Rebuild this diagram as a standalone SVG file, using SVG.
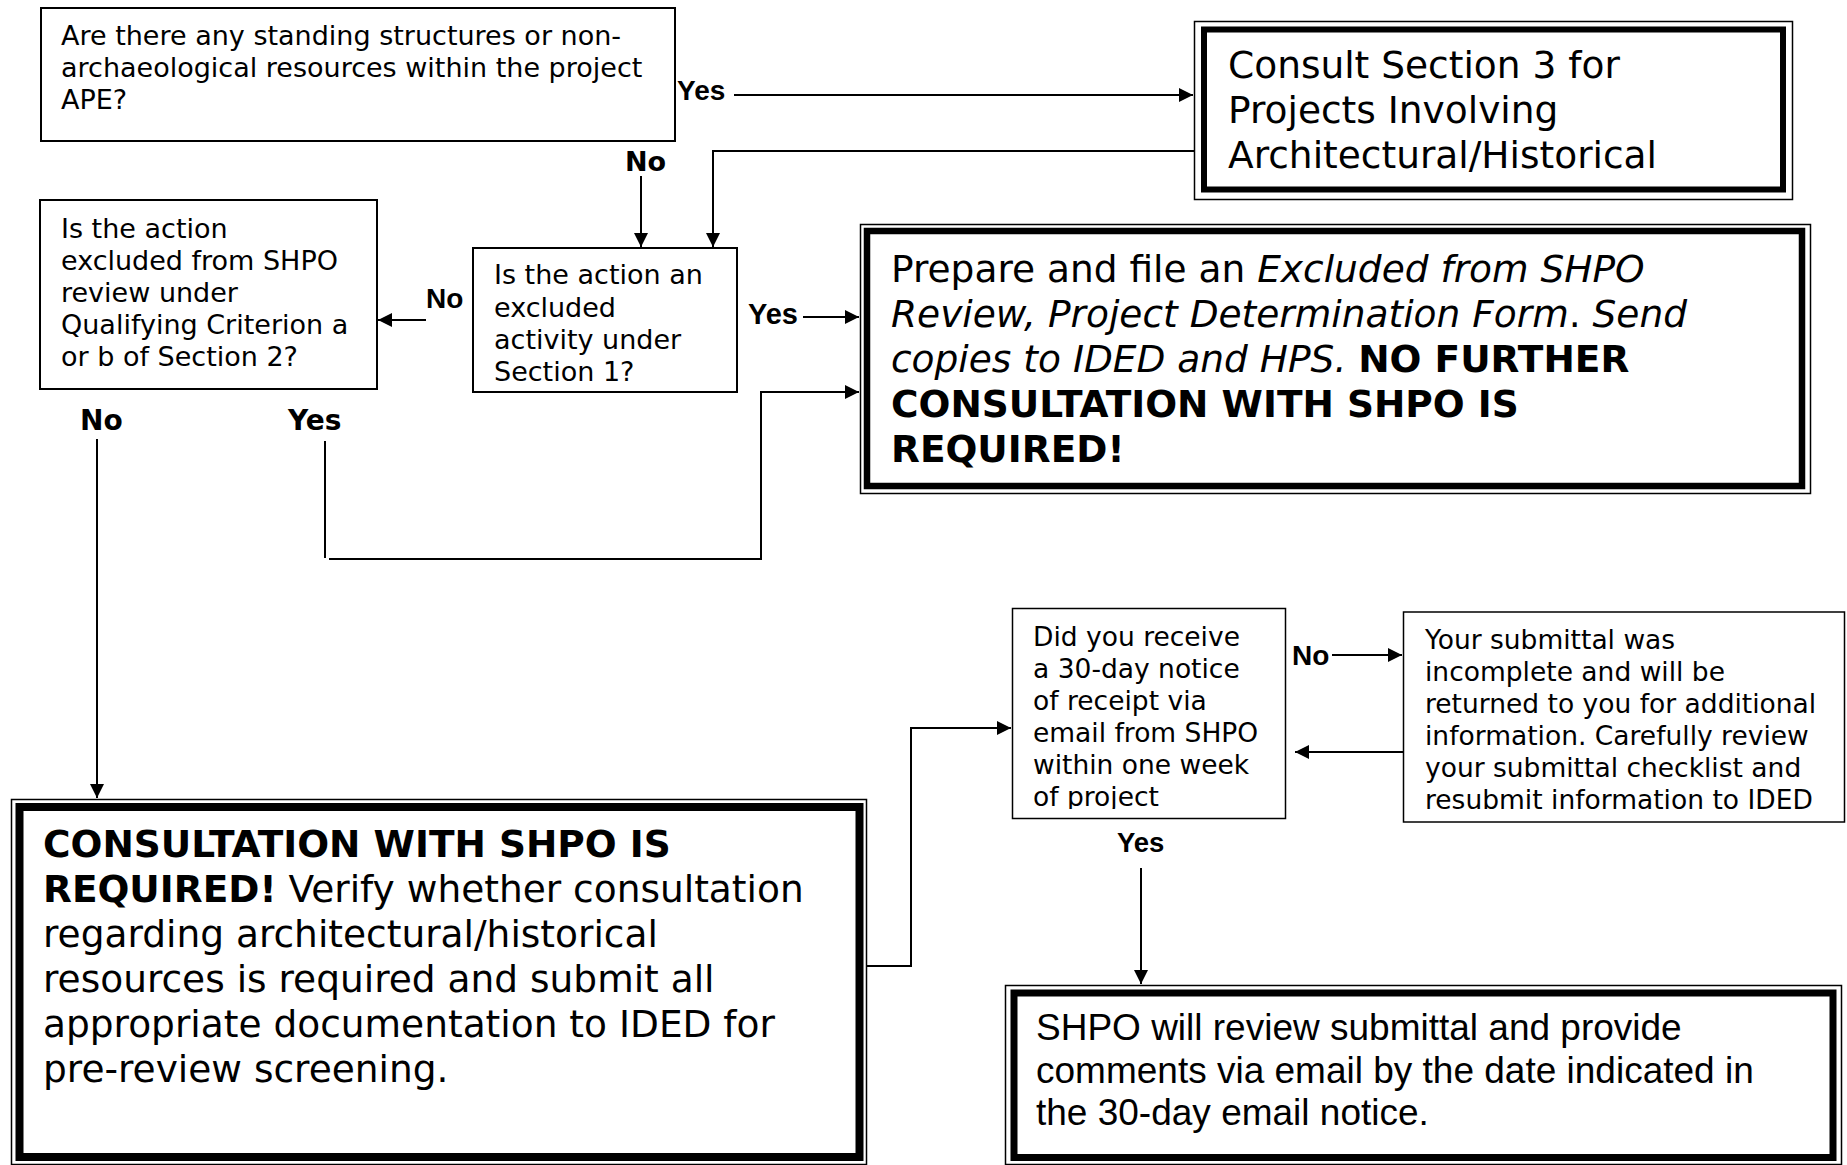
<svg xmlns="http://www.w3.org/2000/svg" width="1847" height="1165" viewBox="0 0 1847 1165">
<style>
  .bx { fill: #fff; stroke: #000; stroke-width: 2; }
  .thin { fill: #fff; stroke: #000; stroke-width: 1.5; }
  .thick { fill: none; stroke: #000; }
  .t { font-family: "DejaVu Sans", Verdana, sans-serif; fill: #000; }
  .a { font-family: "Liberation Sans", Arial, sans-serif; fill: #000; }
  .s27 { font-size: 27px; }
  .s37 { font-size: 37.5px; }
  .b { font-weight: bold; }
  .i { font-style: italic; }
  .lbl { font-weight: bold; font-size: 28px; }
  .cn { fill: none; stroke: #000; stroke-width: 2; }
</style>
<defs>
  <marker id="ah" markerWidth="14" markerHeight="14" refX="14" refY="7" orient="auto" markerUnits="userSpaceOnUse">
    <path d="M0,0 L14,7 L0,14 z" fill="#000"/>
  </marker>
  <clipPath id="clipDid"><rect x="1013" y="609" width="272" height="200"/></clipPath>
  <clipPath id="clipYour"><rect x="1404" y="613" width="440" height="208"/></clipPath>
</defs>

<g id="connectors">
  <path class="cn" d="M734,95 H1193" marker-end="url(#ah)"/>
  <path class="cn" d="M1194,151 H713 V247" marker-end="url(#ah)"/>
  <path class="cn" d="M641,176 V247" marker-end="url(#ah)"/>
  <path class="cn" d="M426,320 H378" marker-end="url(#ah)"/>
  <path class="cn" d="M803,317 H859" marker-end="url(#ah)"/>
  <path class="cn" d="M325,441 V558"/>
  <path class="cn" d="M329,559 H761 V392 H859" marker-end="url(#ah)"/>
  <path class="cn" d="M97,439 V798" marker-end="url(#ah)"/>
  <path class="cn" d="M867,966 H911 V728 H1011" marker-end="url(#ah)"/>
  <path class="cn" d="M1332,655 H1402" marker-end="url(#ah)"/>
  <path class="cn" d="M1403,752 H1295" marker-end="url(#ah)"/>
  <path class="cn" d="M1141,868 V984" marker-end="url(#ah)"/>
</g>

<g id="labels">
  <text class="a lbl" x="677" y="100">Yes</text>
  <text class="t b" font-size="27" x="625" y="171">No</text>
  <text class="a lbl" x="426" y="308">No</text>
  <text class="a b" font-size="29" x="748" y="324">Yes</text>
  <text class="t lbl" x="80" y="430">No</text>
  <text class="t lbl" x="288" y="430">Yes</text>
  <text class="a lbl" x="1292" y="665">No</text>
  <text class="a b" font-size="27.5" x="1117" y="852">Yes</text>
</g>

<g id="node-structures">
  <rect class="bx" x="41" y="8" width="634" height="133"/>
  <text class="t s27" x="61" y="45">Are there any standing structures or non-</text>
  <text class="t s27" x="61" y="77">archaeological resources within the project</text>
  <text class="t s27" x="61" y="109">APE?</text>
</g>

<g id="node-consult">
  <rect class="thin" x="1194.5" y="21.5" width="598" height="178"/>
  <rect class="thick" stroke-width="6" x="1204" y="29.5" width="579" height="160"/>
  <text class="t s37" x="1228" y="78">Consult Section 3 for</text>
  <text class="t s37" x="1228" y="123">Projects Involving</text>
  <text class="t s37" x="1228" y="168">Architectural/Historical</text>
</g>

<g id="node-criterion">
  <rect class="bx" x="40" y="200" width="337" height="189"/>
  <text class="t s27" x="61" y="238">Is the action</text>
  <text class="t s27" x="61" y="270">excluded from SHPO</text>
  <text class="t s27" x="61" y="302">review under</text>
  <text class="t s27" x="61" y="334">Qualifying Criterion a</text>
  <text class="t s27" x="61" y="366">or b of Section 2?</text>
</g>

<g id="node-excluded-activity">
  <rect class="bx" x="473" y="248" width="264" height="144"/>
  <text class="t s27" x="494" y="284">Is the action an</text>
  <text class="t s27" x="494" y="317">excluded</text>
  <text class="t s27" x="494" y="349">activity under</text>
  <text class="t s27" x="494" y="381">Section 1?</text>
</g>

<g id="node-prepare">
  <rect class="thin" x="860.5" y="224.5" width="950" height="269"/>
  <rect class="thick" stroke-width="6.5" x="867" y="231" width="935" height="255"/>
  <text class="t s37" x="891" y="282">Prepare and file an <tspan class="i">Excluded from SHPO</tspan></text>
  <text class="t s37" x="891" y="327"><tspan class="i">Review, Project Determination Form</tspan>. <tspan class="i">Send</tspan></text>
  <text class="t s37" x="891" y="372"><tspan class="i">copies to IDED and HPS.</tspan> <tspan class="b">NO FURTHER</tspan></text>
  <text class="t s37 b" x="891" y="417">CONSULTATION WITH SHPO IS</text>
  <text class="t s37 b" x="891" y="462">REQUIRED!</text>
</g>

<g id="node-consultation-required">
  <rect class="thin" x="11.5" y="799.5" width="855" height="365"/>
  <rect class="thick" stroke-width="8" x="19.5" y="807" width="840" height="350"/>
  <text class="t s37 b" x="43" y="857">CONSULTATION WITH SHPO IS</text>
  <text class="t s37" x="43" y="902"><tspan class="b">REQUIRED!</tspan> Verify whether consultation</text>
  <text class="t s37" x="43" y="947">regarding architectural/historical</text>
  <text class="t s37" x="43" y="992">resources is required and submit all</text>
  <text class="t s37" x="43" y="1037">appropriate documentation to IDED for</text>
  <text class="t s37" x="43" y="1082">pre-review screening.</text>
</g>

<g id="node-notice">
  <rect class="thin" x="1012.5" y="608.5" width="273" height="210"/>
  <g clip-path="url(#clipDid)">
    <text class="t" font-size="26.5" x="1033" y="646">Did you receive</text>
    <text class="t" font-size="26.5" x="1033" y="678">a 30-day notice</text>
    <text class="t" font-size="26.5" x="1033" y="710">of receipt via</text>
    <text class="t" font-size="26.5" x="1033" y="742">email from SHPO</text>
    <text class="t" font-size="26.5" x="1033" y="774">within one week</text>
    <text class="t" font-size="26.5" x="1033" y="806">of project</text>
  </g>
</g>

<g id="node-incomplete">
  <rect class="thin" x="1403.5" y="612" width="441" height="210"/>
  <g clip-path="url(#clipYour)">
    <text class="t" font-size="26.5" x="1425" y="649">Your submittal was</text>
    <text class="t" font-size="26.5" x="1425" y="681">incomplete and will be</text>
    <text class="t" font-size="26.5" x="1425" y="713">returned to you for additional</text>
    <text class="t" font-size="26.5" x="1425" y="745">information. Carefully review</text>
    <text class="t" font-size="26.5" x="1425" y="777">your submittal checklist and</text>
    <text class="t" font-size="26.5" x="1425" y="809">resubmit information to IDED</text>
  </g>
</g>

<g id="node-shpo-review">
  <rect class="thin" x="1005.5" y="985.5" width="836" height="179"/>
  <rect class="thick" stroke-width="7" x="1014" y="993" width="819" height="164.5"/>
  <text class="a" font-size="37" x="1036" y="1040">SHPO will review submittal and provide</text>
  <text class="a" font-size="37" x="1036" y="1083">comments via email by the date indicated in</text>
  <text class="a" font-size="37" x="1036" y="1125">the 30-day email notice.</text>
</g>
</svg>
